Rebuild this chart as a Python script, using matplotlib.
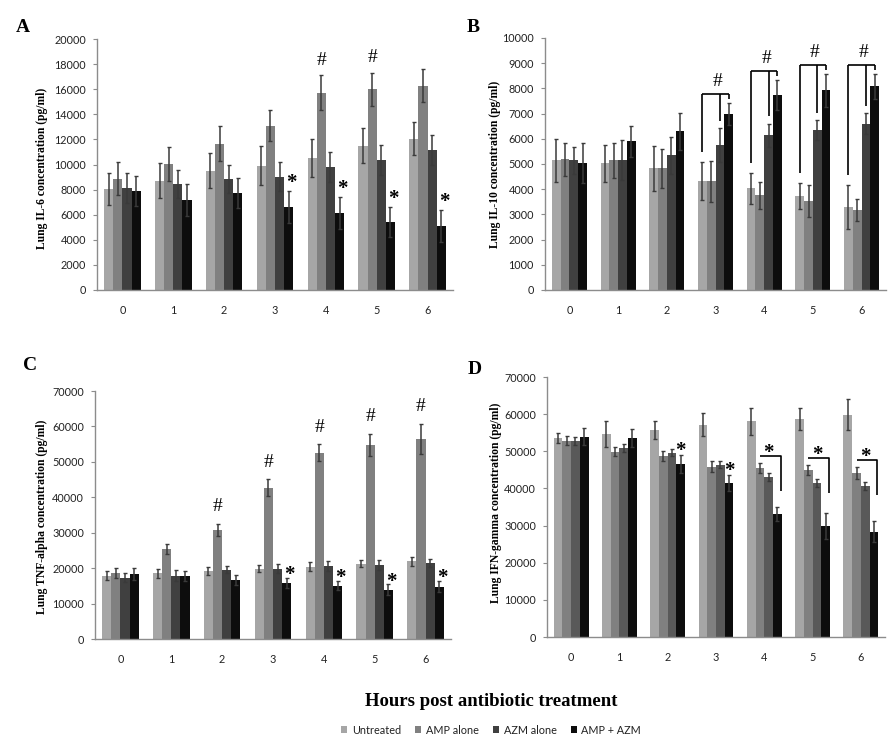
import matplotlib
matplotlib.use('Agg')
import matplotlib.pyplot as plt
import numpy as np
from matplotlib.patches import Patch

hours = ['0', '1', '2', '3', '4', '5', '6']
groups = ['Untreated', 'AMP alone', 'AZM alone', 'AMP + AZM']

# Panel A: IL-6
il6_untreated = [8050, 8700, 9500, 9900, 10530, 11490, 12050]
il6_amp = [8860, 10050, 11650, 13090, 15720, 15980, 16280]
il6_azm = [8140, 8480, 8860, 9020, 9810, 10370, 11170]
il6_combo = [7900, 7180, 7740, 6620, 6140, 5430, 5100]
il6_untreated_err = [1300, 1400, 1400, 1570, 1490, 1400, 1330]
il6_amp_err = [1330, 1330, 1400, 1250, 1380, 1300, 1330]
il6_azm_err = [1170, 1120, 1100, 1140, 1170, 1170, 1200]
il6_combo_err = [1200, 1250, 1170, 1250, 1250, 1170, 1250]
il6_hash = [4, 5]
il6_star = [3, 4, 5, 6]

# Panel B: IL-10
il10_untreated = [5150, 5030, 4830, 4320, 4030, 3730, 3280]
il10_amp = [5190, 5150, 4830, 4320, 3760, 3530, 3170]
il10_azm = [5140, 5150, 5350, 5750, 6140, 6340, 6600]
il10_combo = [5030, 5900, 6290, 7000, 7750, 7930, 8080]
il10_untreated_err = [860, 730, 890, 740, 600, 530, 870]
il10_amp_err = [650, 690, 780, 810, 540, 620, 440]
il10_azm_err = [520, 800, 740, 660, 460, 400, 420]
il10_combo_err = [800, 620, 740, 440, 600, 660, 500]
il10_bracket_hash = [3, 4, 5, 6]

# Panel C: TNF-alpha
tnf_untreated = [17900, 18500, 19200, 19800, 20400, 21200, 21900]
tnf_amp = [18600, 25400, 30800, 42700, 52600, 54800, 56500]
tnf_azm = [17300, 17900, 19500, 19800, 20600, 20900, 21500]
tnf_combo = [18300, 17700, 16700, 15800, 15000, 13900, 14800]
tnf_untreated_err = [1300, 1300, 1100, 1000, 1300, 1000, 1300]
tnf_amp_err = [1500, 1300, 1800, 2400, 2300, 3200, 4300]
tnf_azm_err = [1200, 1500, 1000, 1300, 1300, 1300, 1200]
tnf_combo_err = [1600, 1400, 1500, 1500, 1300, 1500, 1500]
tnf_hash = [2, 3, 4, 5, 6]
tnf_star = [3, 4, 5, 6]

# Panel D: IFN-gamma
ifn_untreated = [53600, 54700, 55800, 57200, 58100, 58700, 59900]
ifn_amp = [52800, 49900, 48700, 45800, 45500, 45000, 44100]
ifn_azm = [52800, 50900, 49600, 46400, 43100, 41500, 40700]
ifn_combo = [53900, 53600, 46600, 41500, 33100, 29900, 28300]
ifn_untreated_err = [1300, 3500, 2400, 3100, 3600, 3000, 4200]
ifn_amp_err = [1200, 1200, 1400, 1500, 1300, 1300, 1600]
ifn_azm_err = [1000, 1000, 1000, 1000, 1000, 1000, 1000]
ifn_combo_err = [2300, 2400, 2400, 2100, 1800, 3400, 2800]
ifn_star = [2, 3]
ifn_bracket_star = [4, 5, 6]

W, H = 896, 756
fig = plt.figure(figsize=(W / 100, H / 100), dpi=100)

SERIF = 'Liberation Serif'
TICKFONT = 'Lato'
BW = 0.18
OFFS = (np.arange(4) - 1.5) * BW
X = np.arange(len(hours))


def rect(l, r, t, b):
    return [l / W, 1 - b / H, (r - l) / W, (b - t) / H]


def panel(r, series, errs, ymax, ystep, colors):
    ax = fig.add_axes(r)
    for i in range(4):
        ax.bar(X + OFFS[i], series[i], BW, color=colors[i], linewidth=0,
               yerr=errs[i], ecolor='#3a3a3a', capsize=1.6,
               error_kw=dict(elinewidth=1.1, capthick=1.0), zorder=2)
    ax.set_xlim(-0.5, len(hours) - 0.5)
    ax.set_ylim(0, ymax)
    ax.set_yticks(np.arange(0, ymax + 1, ystep))
    ax.set_xticks(X)
    ax.set_xticklabels(hours)
    for s in ['top', 'right']:
        ax.spines[s].set_visible(False)
    for s in ['left', 'bottom']:
        ax.spines[s].set_color('#8c8c8c')
        ax.spines[s].set_linewidth(1.0)
    ax.tick_params(axis='y', length=3, color='#8c8c8c', pad=5, labelsize=7.8,
                   labelcolor='#222222')
    ax.tick_params(axis='x', length=0, pad=11, labelsize=7.8, labelcolor='#222222')
    for lab in ax.get_xticklabels() + ax.get_yticklabels():
        lab.set_fontfamily(TICKFONT)
    return ax


def tops(vals, errs):
    return np.array(vals) + np.array(errs)


def mark(ax, txt, x, y, dx, dy, size, weight='normal'):
    ax.annotate(txt, xy=(x, y), xytext=(dx, dy), textcoords='offset points',
                ha='center', va='center', fontsize=size, fontfamily=SERIF,
                fontweight=weight, annotation_clip=False)


col_abc = ['#a6a6a6', '#808080', '#404040', '#0d0d0d']
col_d = ['#a6a6a6', '#808080', '#595959', '#0d0d0d']
STAR = 15

# ---- A ----
axA = panel(rect(97, 453, 39, 290),
            [il6_untreated, il6_amp, il6_azm, il6_combo],
            [il6_untreated_err, il6_amp_err, il6_azm_err, il6_combo_err],
            20000, 2000, col_abc)
tA_amp = tops(il6_amp, il6_amp_err)
tA_combo = tops(il6_combo, il6_combo_err)
for g in il6_hash:
    mark(axA, '#', g + OFFS[1], tA_amp[g], 0, 11, 14)
for g in il6_star:
    mark(axA, '*', g + OFFS[3], tA_combo[g], 2, 6, STAR, 'bold')

# ---- B ----
axB = panel(rect(545, 886, 38, 290),
            [il10_untreated, il10_amp, il10_azm, il10_combo],
            [il10_untreated_err, il10_amp_err, il10_azm_err, il10_combo_err],
            10000, 1000, col_abc)
tB = [tops(il10_untreated, il10_untreated_err), tops(il10_amp, il10_amp_err),
      tops(il10_azm, il10_azm_err), tops(il10_combo, il10_combo_err)]
for g in il10_bracket_hash:
    ybr = tB[3][g] + 350
    xs = [g + OFFS[0], g + OFFS[2], g + OFFS[3]]
    ends = [tB[0][g] + 400, tB[2][g] + 300, tB[3][g] + 150]
    axB.plot([xs[0], xs[2]], [ybr, ybr], color='black', lw=1.2, zorder=3,
             solid_capstyle='butt')
    for xx, ee in zip(xs, ends):
        axB.plot([xx, xx], [ybr, ee], color='black', lw=1.2, zorder=3,
                 solid_capstyle='butt')
    mark(axB, '#', xs[1] - 0.05, ybr, 0, 9, 14)

# ---- C ----
axC = panel(rect(95, 451, 391, 639),
            [tnf_untreated, tnf_amp, tnf_azm, tnf_combo],
            [tnf_untreated_err, tnf_amp_err, tnf_azm_err, tnf_combo_err],
            70000, 10000, col_abc)
tC_amp = tops(tnf_amp, tnf_amp_err)
tC_combo = tops(tnf_combo, tnf_combo_err)
for g in tnf_hash:
    mark(axC, '#', g + OFFS[1], tC_amp[g], 0, 12, 14)
for g in tnf_star:
    mark(axC, '*', g + OFFS[3], tC_combo[g], 2, 2, STAR, 'bold')

# ---- D ----
axD = panel(rect(547, 885, 377, 637),
            [ifn_untreated, ifn_amp, ifn_azm, ifn_combo],
            [ifn_untreated_err, ifn_amp_err, ifn_azm_err, ifn_combo_err],
            70000, 10000, col_d)
tD_amp = tops(ifn_amp, ifn_amp_err)
tD_combo = tops(ifn_combo, ifn_combo_err)
for g in ifn_star:
    mark(axD, '*', g + OFFS[3], tD_combo[g], 0, 3, STAR, 'bold')
for g in ifn_bracket_star:
    ybr = tD_amp[g] + 2000
    xl = g + OFFS[1]
    xr = g + OFFS[3] + 0.4 * BW
    axD.plot([xl, xr, xr], [ybr, ybr, ybr - 9500], color='black', lw=1.2,
             zorder=3, solid_capstyle='butt')
    mark(axD, '*', g + OFFS[2], ybr, 0, 2, STAR, 'bold')

# ---- labels ----
ylabels = [('Lung IL-6 concentration (pg/ml)', 42, 168),
           ('Lung IL-10 concentration (pg/ml)', 495, 164),
           ('Lung TNF-alpha concentration (pg/ml)', 42, 517),
           ('Lung IFN-gamma concentration (pg/ml)', 496, 503)]
for txt, px, py in ylabels:
    fig.text(px / W, 1 - py / H, txt, rotation=90, ha='center', va='center',
             fontsize=8.4, fontweight='bold', fontfamily=SERIF)

letters = [('A', 23, 27), ('B', 473, 27), ('C', 30, 365), ('D', 475, 369)]
for txt, px, py in letters:
    fig.text(px / W, 1 - py / H, txt, ha='center', va='center', fontsize=14,
             fontweight='bold', fontfamily=SERIF)

fig.text(491 / W, 1 - 701 / H, 'Hours post antibiotic treatment', ha='center',
         va='center', fontsize=13.5, fontweight='bold', fontfamily=SERIF)

handles = [Patch(facecolor=c, edgecolor='none') for c in col_abc]
leg = fig.legend(handles, groups, loc='center', bbox_to_anchor=(491 / W, 1 - 730 / H),
                 ncol=4, frameon=False, handlelength=0.6, handleheight=0.6,
                 handletextpad=0.4, columnspacing=1.3,
                 prop={'family': TICKFONT, 'size': 7.8})
for t in leg.get_texts():
    t.set_color('#222222')

fig.savefig('out.png', dpi=100)
